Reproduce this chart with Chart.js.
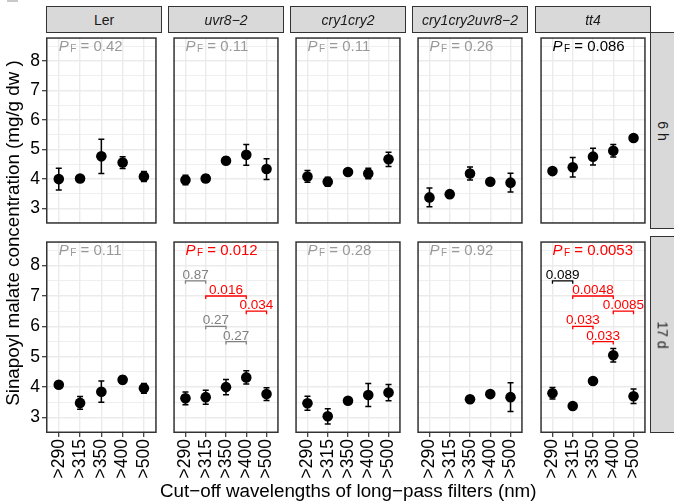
<!DOCTYPE html>
<html>
<head>
<meta charset="utf-8">
<script src="https://cdn.jsdelivr.net/npm/chart.js@4"></script>
<style>
  body { margin: 0; background: #fff; }
  #fig { position: relative; width: 674px; height: 503px; overflow: hidden; font-family: "Liberation Sans", Arial, sans-serif; }
  #fig canvas { position: absolute; }
  .strip { position: absolute; background: #d9d9d9; border: 1.5px solid #333; box-sizing: border-box; color: #1a1a1a; font-size: 14px; display: flex; align-items: center; justify-content: center; white-space: nowrap; }
  .strip.side span { transform: rotate(90deg); display: inline-block; }
  .title { position: absolute; font-size: 18.8px; color: #000; white-space: nowrap; }
</style>
</head>
<body>
<div id="fig"></div>
<script>
const categories = ['>290', '>315', '>350', '>400', '>500'];
const genotypes = ['Ler', 'uvr8−2', 'cry1cry2', 'cry1cry2uvr8−2', 'tt4'];
const harvestTimes = ['6 h', '17 d'];
const yTicks = [3, 4, 5, 6, 7, 8];

// 6 h: mean and error half-width per filter
const ler6h = [4.00, 4.02, 4.77, 4.56, 4.09];
const ler6hErr = [0.37, 0.05, 0.58, 0.20, 0.17];
const uvr6h = [3.97, 4.02, 4.62, 4.82, 4.34];
const uvr6hErr = [0.16, 0.13, 0.12, 0.35, 0.35];
const cry6h = [4.09, 3.91, 4.24, 4.19, 4.67];
const cry6hErr = [0.20, 0.15, 0.05, 0.18, 0.24];
const cryUvr6h = [3.38, 3.49, 4.19, 3.91, 3.88];
const cryUvr6hErr = [0.32, 0.05, 0.22, 0.05, 0.32];
const tt46h = [4.27, 4.40, 4.76, 4.96, 5.39];
const tt46hErr = [0.05, 0.33, 0.28, 0.21, 0.05];

// 17 d
const ler17d = [4.08, 3.48, 3.85, 4.24, 3.96];
const ler17dErr = [0.05, 0.21, 0.35, 0.12, 0.16];
const uvr17d = [3.63, 3.67, 4.00, 4.32, 3.77];
const uvr17dErr = [0.21, 0.23, 0.25, 0.22, 0.21];
const cry17d = [3.47, 3.04, 3.55, 3.74, 3.82];
const cry17dErr = [0.23, 0.25, 0.06, 0.38, 0.27];
const cryUvr17d = [null, null, 3.60, 3.77, 3.67];
const cryUvr17dErr = [null, null, 0.05, 0.05, 0.47];
const tt417d = [3.80, 3.38, 4.20, 5.05, 3.70];
const tt417dErr = [0.19, 0.05, 0.05, 0.22, 0.24];

const pF6h = [0.42, 0.11, 0.11, 0.26, 0.086];
const pF17d = [0.11, 0.012, 0.28, 0.92, 0.0053];

// pairwise comparisons (filter index 1..5)
const pairFrom = [1, 2, 4, 2, 3];
const pairTo = [2, 4, 5, 3, 4];
const pairY = [7.5, 7.0, 6.5, 6.0, 5.5];
const uvrPairs17d = [0.87, 0.016, 0.034, 0.27, 0.27];
const tt4Pairs17d = [0.089, 0.0048, 0.0085, 0.033, 0.033];

const means = [[ler6h, uvr6h, cry6h, cryUvr6h, tt46h], [ler17d, uvr17d, cry17d, cryUvr17d, tt417d]];
const errs = [[ler6hErr, uvr6hErr, cry6hErr, cryUvr6hErr, tt46hErr], [ler17dErr, uvr17dErr, cry17dErr, cryUvr17dErr, tt417dErr]];
const pFs = [pF6h, pF17d];
const pairs = [[null, null, null, null, null], [null, uvrPairs17d, null, null, tt4Pairs17d]];

// layout (px)
const colLeft = [46, 168, 290, 412, 535];
const rowTop = [32, 236];
const panelW = 116, panelH = 197;
const yAxisW = 26, xAxisH = 48;
const FONT = '"Liberation Sans", Arial, sans-serif';

Chart.defaults.font.family = FONT;
const fig = document.getElementById('fig');

const yGrid = [2.5].concat(yTicks.flatMap(t => [t, t + 0.5]));
const isMajor = v => yTicks.includes(v);

function pColor(p, grey) {
  if (p < 0.05) return '#ff0000';
  if (p < 0.1) return '#000000';
  return grey;
}

function decor(mean, err, pF, pairP) {
  return {
    id: 'decor',
    beforeDatasetsDraw(chart) {
      const { ctx, scales: { x, y } } = chart;
      ctx.save();
      ctx.strokeStyle = '#000';
      ctx.lineWidth = 1.5;
      mean.forEach((m, i) => {
        if (m == null) return;
        const px = x.getPixelForValue(i + 1);
        const y1 = y.getPixelForValue(m - err[i]);
        const y2 = y.getPixelForValue(m + err[i]);
        ctx.beginPath();
        ctx.moveTo(px, y1); ctx.lineTo(px, y2);
        ctx.moveTo(px - 3, y1); ctx.lineTo(px + 3, y1);
        ctx.moveTo(px - 3, y2); ctx.lineTo(px + 3, y2);
        ctx.stroke();
      });
      ctx.restore();
    },
    afterDatasetsDraw(chart) {
      const { ctx, chartArea: a, scales: { x, y } } = chart;
      ctx.save();
      // P_F label
      const px = x.getPixelForValue(1);
      const py = y.getPixelForValue(8.35);
      ctx.fillStyle = pColor(pF, '#999999');
      ctx.textAlign = 'left';
      ctx.textBaseline = 'alphabetic';
      ctx.font = 'italic 15px ' + FONT;
      ctx.fillText('P', px, py);
      let w = ctx.measureText('P').width + 1.5;
      ctx.font = '10px ' + FONT;
      ctx.fillText('F', px + w, py + 1.5);
      w += ctx.measureText('F').width;
      ctx.font = '15px ' + FONT;
      ctx.fillText(' = ' + pF, px + w, py);

      // comparison brackets
      if (pairP) {
        ctx.lineWidth = 1.3;
        ctx.font = '13.5px ' + FONT;
        ctx.textAlign = 'center';
        pairP.forEach((p, k) => {
          const col = pColor(p, '#808080');
          const x1 = x.getPixelForValue(pairFrom[k]);
          const x2 = x.getPixelForValue(pairTo[k]);
          const by = y.getPixelForValue(pairY[k]);
          ctx.strokeStyle = col;
          ctx.fillStyle = col;
          ctx.beginPath();
          ctx.moveTo(x1, by + 3); ctx.lineTo(x1, by); ctx.lineTo(x2, by); ctx.lineTo(x2, by + 3);
          ctx.stroke();
          ctx.fillText(String(p), (x1 + x2) / 2, by - 2);
        });
      }

      // panel border
      ctx.strokeStyle = '#333';
      ctx.lineWidth = 1.5;
      ctx.strokeRect(a.left + 0.75, a.top + 0.75, a.right - a.left - 1.5, a.bottom - a.top - 1.5);
      ctx.restore();
    }
  };
}

function makePanel(r, c) {
  const canvas = document.createElement('canvas');
  const left = c === 0 ? colLeft[0] - yAxisW : colLeft[c];
  const w = colLeft[c] + panelW - left;
  const h = panelH + (r === 1 ? xAxisH : 0);
  canvas.width = w;
  canvas.height = h;
  canvas.style.left = left + 'px';
  canvas.style.top = rowTop[r] + 'px';
  fig.appendChild(canvas);

  const mean = means[r][c];
  new Chart(canvas, {
    type: 'scatter',
    data: {
      datasets: [{
        data: mean.map((v, i) => ({ x: i + 1, y: v })).filter(d => d.y != null),
        backgroundColor: '#000',
        borderWidth: 0,
        pointRadius: 5.3
      }]
    },
    options: {
      responsive: false,
      animation: false,
      events: [],
      layout: { padding: 0 },
      plugins: { legend: { display: false }, tooltip: { enabled: false } },
      scales: {
        x: {
          type: 'linear', min: 0.4, max: 5.6,
          afterBuildTicks: s => { s.ticks = categories.map((_, i) => ({ value: i + 1 })); },
          afterFit: s => { s.height = r === 1 ? xAxisH : 0; s.paddingLeft = 0; s.paddingRight = 0; },
          border: { display: false },
          grid: { color: '#ebebeb', lineWidth: 1.4, drawTicks: r === 1, tickLength: 4, tickColor: '#333', tickWidth: 1.2 },
          ticks: {
            display: r === 1, autoSkip: false, minRotation: 90, maxRotation: 90, padding: 2,
            color: '#000', font: { size: 17.5 },
            callback: v => categories[v - 1]
          }
        },
        y: {
          type: 'linear', min: 2.49, max: 8.8,
          afterBuildTicks: s => { s.ticks = yGrid.map(v => ({ value: v })); },
          afterFit: s => { s.width = c === 0 ? yAxisW : 0; s.paddingTop = 0; s.paddingBottom = 0; },
          border: { display: false },
          grid: {
            color: '#ebebeb',
            lineWidth: ctx => (ctx.tick && isMajor(ctx.tick.value)) ? 1.4 : 0.8,
            drawTicks: c === 0, tickLength: 4, tickWidth: 1.2,
            tickColor: ctx => (ctx.tick && isMajor(ctx.tick.value)) ? '#333' : 'rgba(0,0,0,0)'
          },
          ticks: {
            display: c === 0, autoSkip: false, padding: 2,
            color: '#000', font: { size: 17.5 },
            callback: v => isMajor(v) ? String(v) : ''
          }
        }
      }
    },
    plugins: [decor(mean, errs[r][c], pFs[r][c], pairs[r][c])]
  });
}

for (let r = 0; r < 2; r++) {
  for (let c = 0; c < 5; c++) makePanel(r, c);
}

// facet strips
genotypes.forEach((g, c) => {
  const d = document.createElement('div');
  d.className = 'strip';
  d.style.left = colLeft[c] + 'px';
  d.style.top = '6px';
  d.style.width = panelW + 'px';
  d.style.height = '27px';
  d.textContent = g;
  if (c > 0) d.style.fontStyle = 'italic';
  fig.appendChild(d);
});
harvestTimes.forEach((t, r) => {
  const d = document.createElement('div');
  d.className = 'strip side';
  d.style.left = (colLeft[4] + panelW - 1) + 'px';
  d.style.top = rowTop[r] + 'px';
  d.style.width = '26px';
  d.style.height = panelH + 'px';
  const s = document.createElement('span');
  s.textContent = t;
  d.appendChild(s);
  fig.appendChild(d);
});

// axis titles
const xt = document.createElement('div');
xt.className = 'title';
xt.textContent = 'Cut−off wavelengths of long−pass filters (nm)';
fig.appendChild(xt);
xt.style.left = (348.5 - xt.offsetWidth / 2) + 'px';
xt.style.top = '480px';

const yt = document.createElement('div');
yt.className = 'title';
yt.textContent = 'Sinapoyl malate concentration (mg/g dw )';
fig.appendChild(yt);
yt.style.left = (13 - yt.offsetWidth / 2) + 'px';
yt.style.top = (232.5 - yt.offsetHeight / 2) + 'px';
yt.style.transform = 'rotate(-90deg)';

// clipped remnant of a panel letter in the top-left corner
const tag = document.createElement('div');
tag.style.cssText = 'position:absolute;left:7px;top:0;width:11px;height:2px;background:#c8c8c8;';
fig.appendChild(tag);
</script>
</body>
</html>
